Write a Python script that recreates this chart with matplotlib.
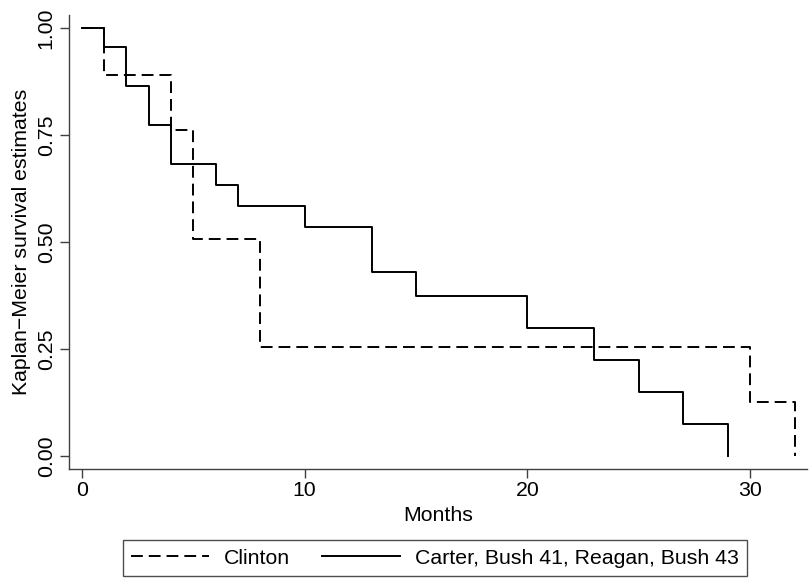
import matplotlib
matplotlib.use("Agg")
import matplotlib.pyplot as plt

# Kaplan-Meier step estimates, months since start
clinton_t = [0, 1, 4, 5, 8, 30, 32]
clinton_s = [1.0, 0.889, 0.762, 0.508, 0.254, 0.127, 0.0]

others_t = [0, 1, 2, 3, 4, 6, 7, 10, 13, 15, 20, 23, 25, 27, 29]
others_s = [1.0, 0.955, 0.864, 0.773, 0.682, 0.633, 0.584, 0.536,
            0.429, 0.375, 0.300, 0.225, 0.150, 0.075, 0.0]

xticks = [0, 10, 20, 30]
yticks = [0, 0.25, 0.5, 0.75, 1.0]

plt.rcParams['font.family'] = ['Liberation Sans', 'DejaVu Sans']
plt.rcParams['lines.scale_dashes'] = False

fs = 15.3

fig = plt.figure(figsize=(8.1, 5.79), dpi=100)
ax = fig.add_axes([69 / 810, 1 - 469 / 579, (807 - 69) / 810, (469 - 15) / 579])

ax.step(clinton_t, clinton_s, where='post', color='black', lw=1.4,
        dashes=(8.5, 4.3), label='Clinton')
ax.step(others_t, others_s, where='post', color='black', lw=1.4,
        label='Carter, Bush 41, Reagan, Bush 43')

ax.set_xlim(-0.58, 32.55)
ax.set_ylim(-0.03, 1.03)
ax.set_xticks(xticks)
ax.set_yticks(yticks)
ax.set_yticklabels(['%.2f' % v for v in yticks], rotation=90, va='center')

for side in ['top', 'right']:
    ax.spines[side].set_visible(False)
for side in ['left', 'bottom']:
    ax.spines[side].set_color('#404040')
    ax.spines[side].set_linewidth(1.0)
ax.tick_params(direction='out', length=6.5, width=1.0, color='#404040',
               labelsize=fs)
ax.tick_params(axis='x', pad=2)
ax.tick_params(axis='y', pad=3)

ax.set_xlabel('Months', fontsize=fs)
ax.set_ylabel('Kaplan\u2212Meier survival estimates', fontsize=fs)
ax.xaxis.set_label_coords(0.5, (469 - 506) / 454)
ax.yaxis.set_label_coords((31 - 69) / 738, 0.5)

leg = fig.legend(loc='center', bbox_to_anchor=(435 / 810, 1 - 558 / 579),
                 ncol=2, fontsize=fs, frameon=True, fancybox=False,
                 handlelength=3.66, handletextpad=0.7, columnspacing=1.5,
                 borderpad=0.39)
leg.get_frame().set_edgecolor('#202020')
leg.get_frame().set_linewidth(1.0)

fig.savefig('out.png', dpi=100)
